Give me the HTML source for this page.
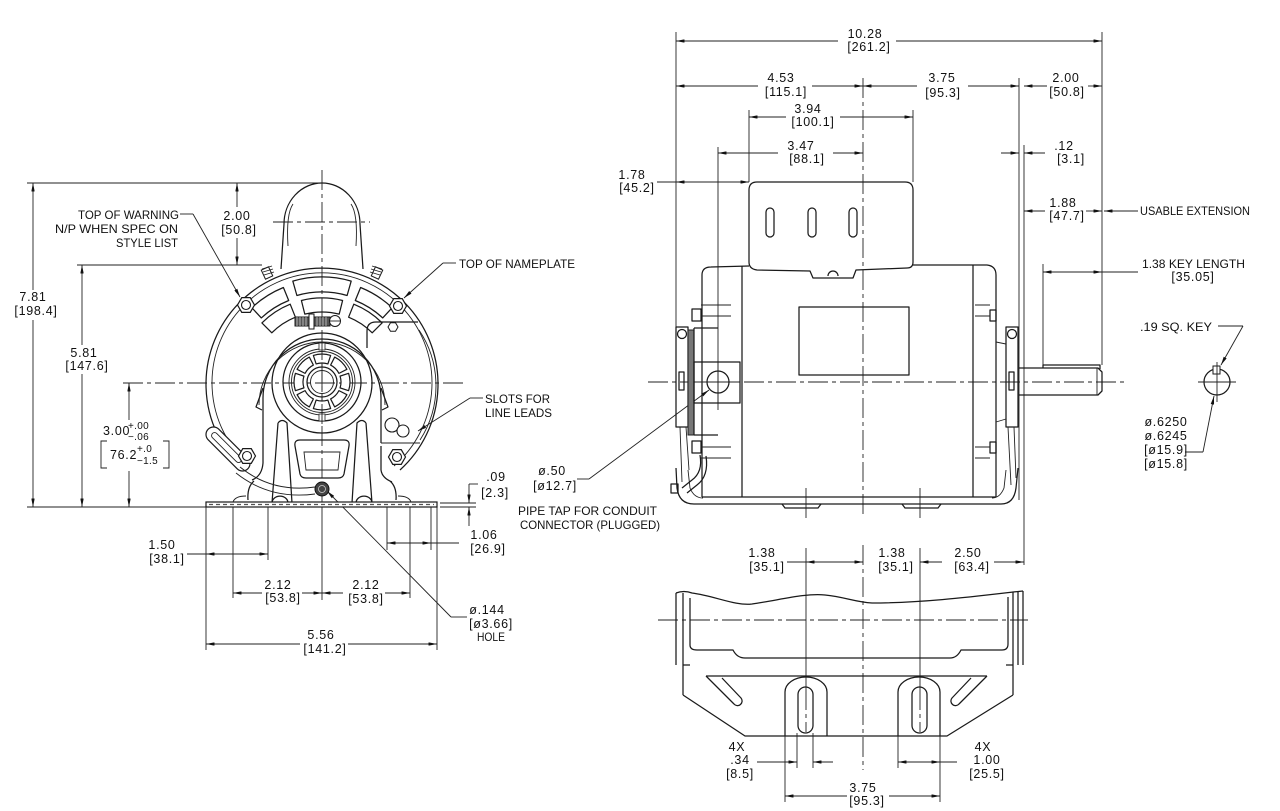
<!DOCTYPE html>
<html><head><meta charset="utf-8"><style>
html,body{margin:0;padding:0;background:#fff;}
svg{display:block;}
text{font-family:"Liberation Sans",sans-serif;font-size:12.5px;fill:#111;letter-spacing:0.7px;}
.l{letter-spacing:0;font-size:12px;}
.s{font-size:10px;letter-spacing:0.3px;}
.o{fill:none;stroke:#1a1a1a;stroke-width:1.25;stroke-linejoin:round;}
.t{fill:none;stroke:#222;stroke-width:0.9;}
.d{fill:none;stroke:#222;stroke-width:0.9;marker-end:url(#ar);}
.dd{fill:none;stroke:#222;stroke-width:0.9;marker-start:url(#ar);marker-end:url(#ar);}
.c{fill:none;stroke:#222;stroke-width:0.9;stroke-dasharray:20 4 4 4;}
</style></head><body>
<svg width="1280" height="811" viewBox="0 0 1280 811" xmlns="http://www.w3.org/2000/svg">
<defs>
<marker id="ar" viewBox="0 0 10 4" refX="10" refY="2" markerWidth="9" markerHeight="3.4" markerUnits="userSpaceOnUse" orient="auto-start-reverse"><path d="M0,0L10,2L0,4z" fill="#111"/></marker>
<g id="hx"><polygon points="8.5,0 4.25,7.36 -4.25,7.36 -8.5,0 -4.25,-7.36 4.25,-7.36" fill="#fff" stroke="#1a1a1a" stroke-width="1.2"/><circle r="4.5" fill="none" stroke="#1a1a1a" stroke-width="1.1"/></g>
<path id="blk" d="M-8.65,-26.6 A28,28 0 0 1 8.65,-26.6 L5.87,-18.07 A19,19 0 0 0 -5.87,-18.07 Z" fill="#fff" stroke="#1a1a1a" stroke-width="1.2" stroke-linejoin="round"/>
</defs>
<rect width="1280" height="811" fill="#fff"/>

<!-- ================= LEFT END VIEW ================= -->
<line class="t" x1="27" y1="183" x2="322" y2="183"/>
<line class="t" x1="77" y1="265" x2="262" y2="265"/>
<line class="t" x1="27" y1="507" x2="206" y2="507"/>
<line class="t" x1="440" y1="503" x2="476" y2="503"/>
<line class="t" x1="440" y1="507" x2="476" y2="507"/>
<line class="c" x1="322" y1="170" x2="322" y2="505"/>
<line class="t" x1="322" y1="505" x2="322" y2="600"/>
<line class="c" x1="123" y1="383" x2="463" y2="383"/>
<line class="c" x1="273" y1="222" x2="370" y2="222"/>

<line class="d" x1="33" y1="290" x2="33" y2="183"/><line class="d" x1="33" y1="320" x2="33" y2="507"/>
<text x="33" y="301" text-anchor="middle">7.81</text><text x="36" y="315" text-anchor="middle">[198.4]</text>
<line class="d" x1="82" y1="345" x2="82" y2="265"/><line class="d" x1="82" y1="374" x2="82" y2="507"/>
<text x="84" y="357" text-anchor="middle">5.81</text><text x="87" y="370" text-anchor="middle">[147.6]</text>
<line class="d" x1="237" y1="207" x2="237" y2="183"/><line class="d" x1="237" y1="238" x2="237" y2="265"/>
<text x="237" y="220" text-anchor="middle">2.00</text><text x="239" y="234" text-anchor="middle">[50.8]</text>
<line class="d" x1="129" y1="420" x2="129" y2="383"/><line class="d" x1="129" y1="471" x2="129" y2="507"/>
<text x="103" y="435">3.00</text>
<text class="s" x="128" y="429">+.00</text><text class="s" x="128" y="440">−.06</text>
<path class="t" d="M107,441 L101,441 L101,468 L107,468"/>
<text x="110" y="459">76.2</text>
<text class="s" x="137" y="452">+.0</text><text class="s" x="137" y="464">−1.5</text>
<path class="t" d="M163,441 L169,441 L169,468 L163,468"/>

<text class="l" x="78" y="219" textLength="101" lengthAdjust="spacingAndGlyphs">TOP OF WARNING</text>
<text class="l" x="55" y="233" textLength="123" lengthAdjust="spacingAndGlyphs">N/P WHEN SPEC ON</text>
<text class="l" x="116" y="247" textLength="62" lengthAdjust="spacingAndGlyphs">STYLE LIST</text>
<line class="t" x1="180" y1="214" x2="193" y2="214"/><line class="d" x1="193" y1="214" x2="240" y2="297"/>
<text class="l" x="459" y="268" textLength="116" lengthAdjust="spacingAndGlyphs">TOP OF NAMEPLATE</text>
<line class="t" x1="456" y1="263" x2="443" y2="263"/><line class="d" x1="443" y1="263" x2="404" y2="298"/>
<text class="l" x="485" y="403" textLength="65" lengthAdjust="spacingAndGlyphs">SLOTS FOR</text>
<text class="l" x="485" y="417" textLength="67" lengthAdjust="spacingAndGlyphs">LINE LEADS</text>
<line class="t" x1="483" y1="398" x2="470" y2="398"/><line class="d" x1="470" y1="398" x2="418" y2="431"/>

<line class="t" x1="469" y1="484" x2="478" y2="484"/>
<line class="d" x1="469" y1="484" x2="469" y2="503"/><line class="d" x1="469" y1="526" x2="469" y2="507"/>
<text x="496" y="481" text-anchor="middle">.09</text><text x="495" y="497" text-anchor="middle">[2.3]</text>

<line class="t" x1="206" y1="507" x2="206" y2="650"/>
<line class="t" x1="233" y1="507" x2="233" y2="598"/>
<line class="t" x1="268" y1="507" x2="268" y2="560"/>
<line class="t" x1="410" y1="507" x2="410" y2="598"/>
<line class="t" x1="387" y1="507" x2="387" y2="550"/>
<line class="t" x1="431" y1="507" x2="431" y2="550"/>
<line class="t" x1="437" y1="507" x2="437" y2="650"/>
<line class="t" x1="187" y1="554" x2="206" y2="554"/><line class="dd" x1="206" y1="554" x2="268" y2="554"/>
<text x="162" y="549" text-anchor="middle">1.50</text><text x="167" y="563" text-anchor="middle">[38.1]</text>
<line class="d" x1="262" y1="593" x2="233" y2="593"/><line class="d" x1="302" y1="593" x2="322" y2="593"/>
<text x="278" y="589" text-anchor="middle">2.12</text><text x="283" y="602" text-anchor="middle">[53.8]</text>
<line class="d" x1="343" y1="593" x2="322" y2="593"/><line class="d" x1="385" y1="593" x2="410" y2="593"/>
<text x="366" y="589" text-anchor="middle">2.12</text><text x="366" y="603" text-anchor="middle">[53.8]</text>
<line class="d" x1="300" y1="644" x2="206" y2="644"/><line class="d" x1="348" y1="644" x2="437" y2="644"/>
<text x="321" y="639" text-anchor="middle">5.56</text><text x="325" y="653" text-anchor="middle">[141.2]</text>
<line class="dd" x1="387" y1="543" x2="431" y2="543"/><line class="t" x1="431" y1="543" x2="459" y2="543"/>
<text x="484" y="539" text-anchor="middle">1.06</text><text x="488" y="553" text-anchor="middle">[26.9]</text>
<line class="t" x1="467" y1="617" x2="451" y2="617"/><line class="d" x1="451" y1="617" x2="327" y2="491"/>
<text x="487" y="614" text-anchor="middle">ø.144</text><text x="491" y="628" text-anchor="middle">[ø3.66]</text>
<text class="l" x="477" y="641" textLength="28" lengthAdjust="spacingAndGlyphs">HOLE</text>

<!-- motor end view -->
<path class="o" d="M281,269 L284,224 A38,41 0 0 1 360,224 L363,269"/>
<path class="t" d="M288,246 Q286,214 293,204 M356,246 Q358,214 351,204"/>
<path class="o" d="M244,470 A116,116 0 1 1 400,470"/>
<path class="t" d="M250,466 A110,110 0 1 1 394,466"/>
<path class="t" d="M419,330 A100,100 0 0 1 420,440"/>
<g class="o">
<path d="M292.8,281.1 A106,106 0 0 1 351.2,281.1 L347.1,295.5 A91,91 0 0 0 296.9,295.5 Z"/>
<path d="M251.8,307.7 A103,103 0 0 1 283.4,287.5 L288.7,300.5 A89,89 0 0 0 261.3,317.9 Z"/>
<path d="M360.6,287.5 A103,103 0 0 1 392.2,307.7 L382.7,317.9 A89,89 0 0 0 355.3,300.5 Z"/>
<path d="M301.4,300.5 A85,85 0 0 1 342.6,300.5 L339.2,314.1 A71,71 0 0 0 304.8,314.1 Z"/>
<path d="M261.9,322.9 A85,85 0 0 1 290.2,304.2 L295.4,317.2 A71,71 0 0 0 271.8,332.8 Z"/>
<path d="M353.8,304.2 A85,85 0 0 1 382.1,322.9 L372.2,332.8 A71,71 0 0 0 348.6,317.2 Z"/>
</g>
<!-- top clamp -->
<rect x="295" y="317" width="17" height="9" fill="#555" stroke="#1a1a1a" stroke-width="1"/>
<rect x="314" y="317" width="16" height="9" fill="#555" stroke="#1a1a1a" stroke-width="1"/>
<path d="M297,317V326M300,317V326M303,317V326M306,317V326M309,317V326M317,317V326M320,317V326M323,317V326M326,317V326" stroke="#ddd" stroke-width="0.7"/>
<rect x="309" y="314" width="5" height="15" fill="#fff" stroke="#1a1a1a"/>
<circle cx="335" cy="321" r="5.5" fill="#fff" stroke="#1a1a1a"/><line class="t" x1="330" y1="321" x2="340" y2="321"/>
<!-- frame top screws -->
<rect x="-4" y="-5" width="8" height="10" transform="translate(267,273) rotate(-25)" fill="#fff" stroke="#1a1a1a"/>
<path class="t" d="M262,269 L272,266 M263,272 L273,269 M264,275 L274,272"/>
<rect x="-4" y="-5" width="8" height="10" transform="translate(377,273) rotate(25)" fill="#fff" stroke="#1a1a1a"/>
<path class="t" d="M372,266 L382,269 M371,269 L381,272 M370,272 L380,275"/>
<!-- hub -->
<path class="o" d="M263,410 L263,398 A57.6,57.6 0 0 1 381,398 L381,410"/>
<path class="t" d="M259,405 A61,61 0 0 1 385,405"/>
<circle class="o" cx="322" cy="383" r="50"/>
<circle class="o" cx="322" cy="382" r="39"/>
<circle class="t" cx="322" cy="382" r="33"/>
<circle class="t" cx="322" cy="382" r="30.5"/>
<use href="#blk" transform="translate(322,382)"/>
<use href="#blk" transform="translate(322,382) rotate(45)"/>
<use href="#blk" transform="translate(322,382) rotate(90)"/>
<use href="#blk" transform="translate(322,382) rotate(135)"/>
<use href="#blk" transform="translate(322,382) rotate(180)"/>
<use href="#blk" transform="translate(322,382) rotate(225)"/>
<use href="#blk" transform="translate(322,382) rotate(270)"/>
<use href="#blk" transform="translate(322,382) rotate(315)"/>
<circle class="o" cx="322" cy="382" r="15"/>
<circle class="t" cx="322" cy="382" r="11.5"/>
<rect x="319" y="343" width="6" height="7" fill="#fff" stroke="#222" stroke-width="0.8"/>
<rect x="319" y="414" width="6" height="7" fill="#fff" stroke="#222" stroke-width="0.8"/>
<line class="c" x1="322" y1="340" x2="322" y2="425"/>
<path class="o" d="M263,388 L256,407 L262,410 M381,388 L388,407 L382,410"/>
<!-- lower body -->
<path class="o" d="M263,410 L263,463 Q262,476 252,480 M248,500 Q247,487 254,481"/>
<path class="o" d="M381,410 L381,443 M381,446 L381,470 Q382,478 392,482 M396,500 Q397,487 390,481"/>
<path class="o" d="M278,423 Q282,418 287,423 L292,503 M278,423 L272,503"/>
<path class="o" d="M366,423 Q362,418 357,423 L352,503 M366,423 L372,503"/>
<path class="o" d="M300,440 L344,440 Q350,440 349,446 L344,474 Q343,478 338,478 L306,478 Q301,478 300,474 L295,446 Q294,440 300,440 Z"/>
<path class="t" d="M304,452 L340,452 L338,470 L306,470 Z"/>
<path class="o" d="M272,503 A7,6 0 0 1 288,503 M356,503 A7,6 0 0 1 372,503"/>
<rect x="206" y="502" width="231" height="5" fill="#fff" stroke="#1a1a1a" stroke-width="1.2"/>
<line x1="209" y1="504.5" x2="434" y2="504.5" stroke="#555" stroke-width="1.3" stroke-dasharray="4 3"/>
<path class="t" d="M233,502 Q235,496 246,496 M411,502 Q409,496 398,496"/>
<rect x="-7.5" y="-28" width="15" height="56" rx="7.5" transform="translate(228,449) rotate(-45)" fill="#fff" stroke="#1a1a1a" stroke-width="1.2"/>
<rect x="-3" y="-22" width="6" height="40" rx="3" transform="translate(228,449) rotate(-45)" fill="none" stroke="#222" stroke-width="0.9"/>
<path class="t" d="M240,467 Q272,493 315,487 M236,473 Q270,500 315,494"/>
<circle cx="322" cy="489" r="7" fill="#444" stroke="#111"/><circle cx="322" cy="489" r="3.5" fill="none" stroke="#ccc" stroke-width="0.8"/>
<path class="o" d="M367,348 L367,331 Q367,322 376,322 L418,322"/>
<path class="t" d="M381,443 L420,443"/>
<polygon points="398,327 395.5,331.3 390.5,331.3 388,327 390.5,322.7 395.5,322.7" fill="#fff" stroke="#1a1a1a"/>
<circle cx="392" cy="425" r="7" fill="#fff" stroke="#1a1a1a" stroke-width="1.1"/>
<circle cx="403" cy="431" r="6" fill="#fff" stroke="#1a1a1a" stroke-width="1.1"/>
<use href="#hx" x="246" y="305"/><use href="#hx" x="398" y="306"/>
<use href="#hx" x="247" y="456"/><use href="#hx" x="397" y="457"/>

<!-- ================= SIDE VIEW ================= -->
<line class="t" x1="676" y1="32" x2="676" y2="327"/>
<line class="t" x1="1102" y1="32" x2="1102" y2="365"/>
<line class="t" x1="749" y1="110" x2="749" y2="182"/>
<line class="t" x1="913" y1="110" x2="913" y2="182"/>
<line class="t" x1="718" y1="147" x2="718" y2="410"/>
<line class="t" x1="1019" y1="78" x2="1019" y2="500"/>
<line class="t" x1="1024" y1="145" x2="1024" y2="565"/>
<line class="t" x1="1043" y1="264" x2="1043" y2="365"/>
<line class="c" x1="863" y1="78" x2="863" y2="515"/>
<line class="c" x1="648" y1="382" x2="1125" y2="382"/>

<line class="d" x1="838" y1="41" x2="676" y2="41"/><line class="d" x1="896" y1="41" x2="1102" y2="41"/>
<text x="865" y="38" text-anchor="middle">10.28</text><text x="869" y="51" text-anchor="middle">[261.2]</text>
<line class="d" x1="758" y1="86" x2="676" y2="86"/><line class="d" x1="812" y1="86" x2="863" y2="86"/>
<text x="781" y="82" text-anchor="middle">4.53</text><text x="786" y="96" text-anchor="middle">[115.1]</text>
<line class="d" x1="917" y1="86" x2="863" y2="86"/><line class="d" x1="968" y1="86" x2="1019" y2="86"/>
<text x="942" y="82" text-anchor="middle">3.75</text><text x="943" y="97" text-anchor="middle">[95.3]</text>
<line class="d" x1="1047" y1="86" x2="1024" y2="86"/><line class="d" x1="1088" y1="86" x2="1102" y2="86"/>
<text x="1066" y="82" text-anchor="middle">2.00</text><text x="1067" y="96" text-anchor="middle">[50.8]</text>
<line class="d" x1="786" y1="117" x2="749" y2="117"/><line class="d" x1="840" y1="117" x2="913" y2="117"/>
<text x="808" y="113" text-anchor="middle">3.94</text><text x="813" y="126" text-anchor="middle">[100.1]</text>
<line class="d" x1="778" y1="153" x2="718" y2="153"/><line class="d" x1="833" y1="153" x2="863" y2="153"/>
<text x="801" y="150" text-anchor="middle">3.47</text><text x="807" y="163" text-anchor="middle">[88.1]</text>
<line class="t" x1="657" y1="182" x2="676" y2="182"/><line class="dd" x1="676" y1="182" x2="749" y2="182"/>
<text x="632" y="179" text-anchor="middle">1.78</text><text x="637" y="192" text-anchor="middle">[45.2]</text>
<line class="d" x1="1001" y1="153" x2="1019" y2="153"/><line class="d" x1="1045" y1="153" x2="1024" y2="153"/>
<text x="1064" y="150" text-anchor="middle">.12</text><text x="1071" y="163" text-anchor="middle">[3.1]</text>
<line class="d" x1="1045" y1="211" x2="1024" y2="211"/><line class="d" x1="1086" y1="211" x2="1102" y2="211"/>
<text x="1063" y="207" text-anchor="middle">1.88</text><text x="1067" y="220" text-anchor="middle">[47.7]</text>
<line class="d" x1="1138" y1="211" x2="1104" y2="211"/>
<text class="l" x="1140" y="215" textLength="110" lengthAdjust="spacingAndGlyphs">USABLE EXTENSION</text>
<line class="dd" x1="1043" y1="272" x2="1102" y2="272"/><line class="t" x1="1102" y1="272" x2="1138" y2="272"/>
<text class="l" x="1142" y="268" textLength="103" lengthAdjust="spacingAndGlyphs">1.38 KEY LENGTH</text>
<text x="1193" y="281" text-anchor="middle">[35.05]</text>

<text class="l" x="1140" y="331" textLength="72" lengthAdjust="spacingAndGlyphs">.19 SQ. KEY</text>
<line class="t" x1="1218" y1="326" x2="1243" y2="326"/><line class="d" x1="1243" y1="326" x2="1221" y2="365"/>
<circle class="o" cx="1217" cy="382" r="13"/>
<rect x="1213" y="366" width="7" height="8" fill="#fff" stroke="#1a1a1a"/>
<line class="t" x1="1198" y1="382" x2="1236" y2="382"/><line class="t" x1="1217" y1="362" x2="1217" y2="402"/>
<line class="t" x1="1185" y1="452" x2="1203" y2="452"/><line class="d" x1="1203" y1="452" x2="1214" y2="396"/>
<text x="1166" y="426" text-anchor="middle">ø.6250</text>
<text x="1166" y="440" text-anchor="middle">ø.6245</text>
<text x="1166" y="454" text-anchor="middle">[ø15.9]</text>
<text x="1166" y="468" text-anchor="middle">[ø15.8]</text>

<text x="552" y="475" text-anchor="middle">ø.50</text><text x="555" y="490" text-anchor="middle">[ø12.7]</text>
<line class="t" x1="577" y1="479" x2="589" y2="479"/><line class="d" x1="589" y1="479" x2="709" y2="390"/>
<text class="l" x="518" y="515" textLength="139" lengthAdjust="spacingAndGlyphs">PIPE TAP FOR CONDUIT</text>
<text class="l" x="520" y="529" textLength="140" lengthAdjust="spacingAndGlyphs">CONNECTOR (PLUGGED)</text>

<path class="o" d="M749,262 L749,190 Q749,182 757,182 L905,182 Q913,182 913,190 L913,262 Q913,268 907,268 L856,270 L853,278 L813,278 L810,271 L757,270 Q749,269 749,262 Z"/>
<rect class="o" x="766" y="208" width="8" height="29" rx="4"/>
<rect class="o" x="808" y="208" width="8" height="29" rx="4"/>
<rect class="o" x="849" y="208" width="8" height="29" rx="4"/>
<path class="o" d="M828,276 A5,5 0 0 1 838,276"/>
<path class="o" d="M702,497 L702,275 Q702,267 711,267 L749,266"/>
<path class="o" d="M913,265 L987,265 Q996,266 996,275 L996,497"/>
<line class="o" x1="702" y1="497" x2="996" y2="497"/>
<line class="o" x1="742" y1="266" x2="742" y2="497"/>
<line class="o" x1="973" y1="265" x2="973" y2="497"/>
<rect class="o" x="799" y="307" width="110" height="68"/>
<rect class="o" x="676" y="327" width="12" height="100" fill="#fff"/>
<circle class="o" cx="682" cy="334" r="4.5"/>
<rect class="o" x="679" y="372" width="5" height="18"/>
<rect x="688" y="330" width="6" height="105" fill="#777" stroke="#222"/>
<path class="o" d="M694,328 L718,328 M694,435 L718,435 M694,328 L694,435"/>
<rect class="o" x="694" y="362" width="46" height="41" fill="#fff"/>
<circle class="o" cx="718" cy="382" r="11" fill="#fff"/>
<line class="t" x1="718" y1="362" x2="718" y2="403"/><line class="c" x1="700" y1="382" x2="736" y2="382"/>
<rect class="o" x="692" y="309" width="9" height="12"/><path class="t" d="M701,305 L731,305 M701,316 L731,316"/>
<rect class="o" x="692" y="441" width="9" height="12"/><path class="t" d="M701,447 L731,447 M701,458 L731,458"/>
<rect class="o" x="1006" y="327" width="12" height="100" fill="#fff"/>
<circle class="o" cx="1012" cy="334" r="4.5"/>
<rect class="o" x="1009" y="372" width="5" height="18"/>
<rect class="o" x="990" y="310" width="6" height="11"/><path class="t" d="M975,305 L990,305 M975,316 L990,316 M996,342 L1006,344"/>
<rect class="o" x="990" y="442" width="6" height="11"/><path class="t" d="M975,447 L990,447 M975,458 L990,458 M996,422 L1006,419"/>
<path class="o" d="M1019,368 L1098,368 L1102,372 L1102,391 L1098,395 L1019,395"/>
<line class="t" x1="1097" y1="368" x2="1097" y2="395"/>
<path class="o" d="M1043,368 L1043,365 L1100,365 L1100,369"/>
<path class="o" d="M676,468 L677,488 Q679,504 694,504 L1001,504 Q1014,504 1016,488 L1018,468"/>
<path class="t" d="M688,470 L690,488 Q694,498 703,498 M1006,470 L1004,488 Q1000,498 992,498"/>
<path class="t" d="M680,427 L682,482 M686,427 L689,470 M1008,427 L1011,485 M1014,427 L1016,478"/>
<path class="o" d="M700,455 Q703,472 692,480 L682,488 M706,456 Q709,476 697,485 L687,493"/>
<rect class="o" x="671" y="484" width="7" height="9"/>
<path class="o" d="M782,504 L785,508 L818,508 L821,504 M902,504 L905,508 L938,508 L941,504"/>
<line class="t" x1="806" y1="488" x2="806" y2="518"/><line class="t" x1="920" y1="488" x2="920" y2="518"/>

<!-- ================= BOTTOM (BASE) VIEW ================= -->
<line class="t" x1="806" y1="548" x2="806" y2="690"/>
<line class="t" x1="920" y1="548" x2="920" y2="690"/>
<line class="c" x1="863" y1="545" x2="863" y2="770"/>
<line class="c" x1="658" y1="620" x2="1028" y2="620"/>
<line class="t" x1="787" y1="562" x2="806" y2="562"/><line class="dd" x1="806" y1="562" x2="863" y2="562"/>
<text x="762" y="557" text-anchor="middle">1.38</text><text x="767" y="571" text-anchor="middle">[35.1]</text>
<line class="d" x1="942" y1="562" x2="920" y2="562"/>
<text x="892" y="557" text-anchor="middle">1.38</text><text x="896" y="571" text-anchor="middle">[35.1]</text>
<line class="d" x1="994" y1="562" x2="1024" y2="562"/>
<text x="968" y="557" text-anchor="middle">2.50</text><text x="972" y="571" text-anchor="middle">[63.4]</text>
<path class="o" d="M676,593 Q684,590 692,593 C715,596 735,606 752,604 C780,600 805,593 825,595 C845,597 855,602 872,603 C920,603 970,597 1013,592 L1023,591"/>
<path class="o" d="M676,593 L676,665 M683,593 L683,695 M1013,592 L1013,695 M1018,592 L1018,665 M1023,591 L1023,665"/>
<path class="o" d="M690,598 L690,645 Q690,650 697,650 L733,650 Q737,658 745,658 L950,658 Q957,658 961,650 L1002,650 Q1008,650 1008,644 L1008,597"/>
<path class="o" d="M683,665 L690,665 M1006,665 L1013,665"/>
<path class="o" d="M683,695 L745,736 L947,736 L1013,695"/>
<line class="o" x1="706" y1="676" x2="987" y2="676"/>
<path class="o" d="M706,676 L734,704 A4.5,4.5 0 0 0 741,698 L722,678 M987,676 L959,704 A4.5,4.5 0 0 1 952,698 L971,678"/>
<path class="o" d="M785,736 L785,692 A21,15 0 0 1 827,692 L827,736" fill="#fff"/>
<path class="o" d="M898,736 L898,692 A21,15 0 0 1 940,692 L940,736" fill="#fff"/>
<rect class="o" x="798" y="687" width="15" height="46" rx="7.5"/>
<rect class="o" x="912" y="687" width="15" height="46" rx="7.5"/>
<line class="c" x1="806" y1="690" x2="806" y2="732"/><line class="c" x1="920" y1="690" x2="920" y2="732"/>
<line class="t" x1="797" y1="733" x2="797" y2="768"/><line class="t" x1="813" y1="733" x2="813" y2="768"/>
<line class="t" x1="785" y1="736" x2="785" y2="802"/><line class="t" x1="940" y1="736" x2="940" y2="802"/>
<line class="t" x1="898" y1="736" x2="898" y2="768"/>
<line class="d" x1="757" y1="762" x2="797" y2="762"/><line class="d" x1="833" y1="762" x2="813" y2="762"/>
<text x="737" y="751" text-anchor="middle">4X</text><text x="740" y="764" text-anchor="middle">.34</text><text x="740" y="778" text-anchor="middle">[8.5]</text>
<line class="dd" x1="898" y1="762" x2="940" y2="762"/><line class="t" x1="940" y1="762" x2="957" y2="762"/>
<text x="983" y="751" text-anchor="middle">4X</text><text x="987" y="764" text-anchor="middle">1.00</text><text x="987" y="778" text-anchor="middle">[25.5]</text>
<line class="d" x1="847" y1="796" x2="785" y2="796"/><line class="d" x1="889" y1="796" x2="940" y2="796"/>
<text x="863" y="792" text-anchor="middle">3.75</text><text x="867" y="805" text-anchor="middle">[95.3]</text>
</svg>
</body></html>
